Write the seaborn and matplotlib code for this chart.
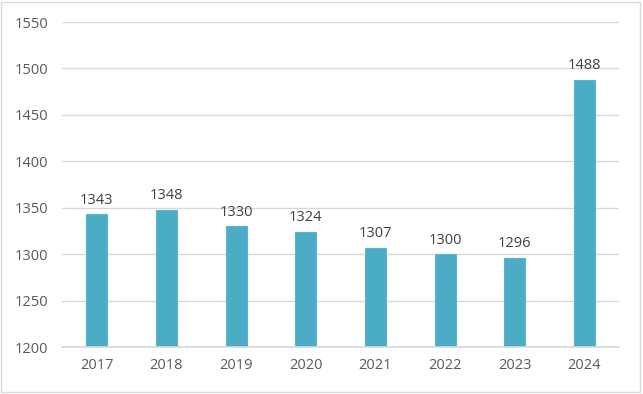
import matplotlib
matplotlib.use("Agg")
import matplotlib.pyplot as plt
import numpy as np
import pandas as pd
import seaborn as sns
from matplotlib.patches import Rectangle

years = ['2017', '2018', '2019', '2020', '2021', '2022', '2023', '2024']
values = [1343, 1348, 1330, 1324, 1307, 1300, 1296, 1488]
y_ticks = [1200, 1250, 1300, 1350, 1400, 1450, 1500, 1550]

sns.set_theme(style="white")
plt.rcParams['font.family'] = ['Open Sans', 'DejaVu Sans']

df = pd.DataFrame({'year': years, 'value': values})

fig = plt.figure(figsize=(6.43, 3.94), dpi=100)
ax = fig.add_axes([0.0964, 0.119, 0.8666, 0.825])

ax.yaxis.grid(True, color='#d9d9d9', linewidth=1)
ax.set_axisbelow(True)
sns.barplot(data=df, x='year', y='value', color='#4bacc6', width=0.3,
            edgecolor='#5ab6cf', linewidth=0.8, saturation=1, ax=ax)

for i, v in enumerate(values):
    ax.text(i, v + 7, str(v), ha='center', va='bottom', fontsize=10.5, color='#404040')

ax.set_ylim(1200, 1550)
ax.set_yticks(y_ticks)
ax.set_xlim(-0.5, len(years) - 0.5)
ax.set_xlabel('')
ax.set_ylabel('')
ax.tick_params(axis='both', length=0, labelsize=10.5, colors='#595959')
ax.tick_params(axis='y', pad=10)
ax.tick_params(axis='x', pad=8)
for s in ['top', 'right', 'left']:
    ax.spines[s].set_visible(False)
ax.spines['bottom'].set_color('#d9d9d9')

fig.patches.append(Rectangle((0.002, 0.005), 0.993, 0.99, transform=fig.transFigure,
                             fill=False, edgecolor='#d9d9d9', linewidth=1))

fig.savefig('out.png', dpi=100)
